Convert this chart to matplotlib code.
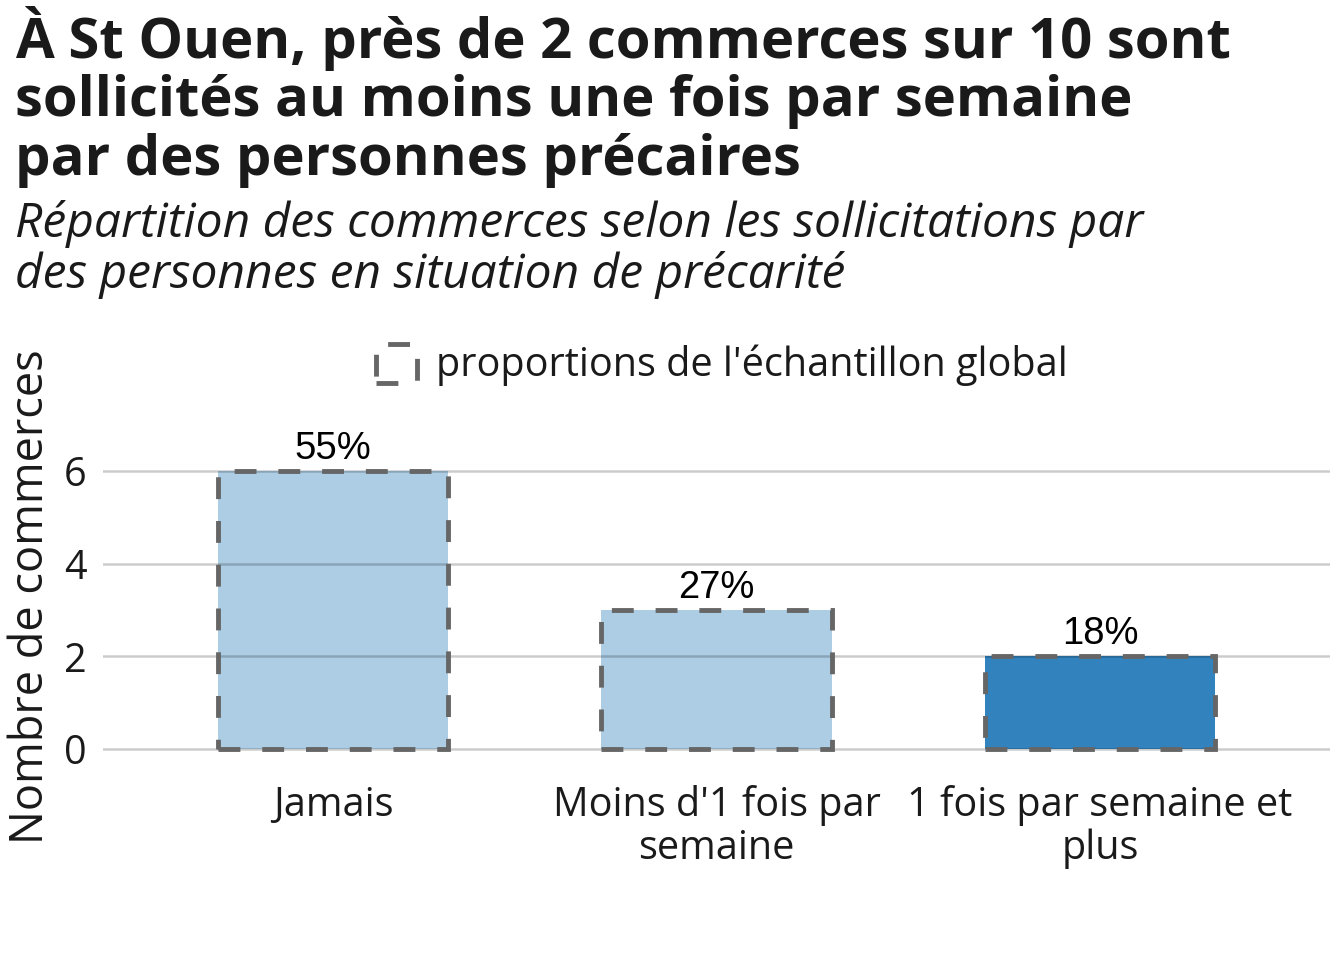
import matplotlib
matplotlib.use("Agg")
import matplotlib.pyplot as plt
from matplotlib.patches import Rectangle

categories = ["Jamais", "Moins d'1 fois par\nsemaine", "1 fois par semaine et\nplus"]
counts = [6, 3, 2]
pct_labels = ["55%", "27%", "18%"]
highlight = [False, False, True]
yticks = [0, 2, 4, 6]

BLUE = "#3182bd"
EDGE = "#666666"
TXT = "#1a1a1a"

plt.rcParams["font.family"] = ["Open Sans", "DejaVu Sans"]

fig = plt.figure(figsize=(13.44, 9.6), dpi=100)
ax = fig.add_axes([103 / 1344, 1 - 763 / 960, (1330 - 103) / 1344, (763 - 457) / 960])

x = [1, 2, 3]
for xi, c, h in zip(x, counts, highlight):
    ax.bar(xi, c, width=0.6, color=BLUE, alpha=1.0 if h else 0.4, linewidth=0, zorder=1)
# dashed outline = proportions of the global sample
ax.bar(x, counts, width=0.6, fill=False, edgecolor=EDGE, linewidth=3.5,
       linestyle=(0, (4.5, 4.5)), zorder=3)

for yv in yticks:
    ax.axhline(yv, color="black", alpha=0.2, linewidth=1.8, zorder=2)

for xi, c, lab in zip(x, counts, pct_labels):
    ax.text(xi, c + 0.09, lab, ha="center", va="bottom", fontsize=27.5,
            family="Liberation Sans", color="black", clip_on=False)

ax.set_xlim(0.4, 3.6)
ax.set_ylim(-0.3, 6.3)
ax.set_yticks(yticks)
ax.set_xticks(x)
ax.set_xticklabels(categories, fontsize=28.5, color=TXT, linespacing=1.07)
ax.tick_params(axis="y", labelsize=28.5, labelcolor=TXT, length=0, pad=12)
ax.tick_params(axis="x", length=0, pad=16)
for s in ax.spines.values():
    s.set_visible(False)
fig.text(31 / 1344, 1 - 597 / 960, "Nombre de commerces", rotation=90,
         fontsize=32.5, color=TXT, ha="center", va="center")

# legend key
fig.patches.append(Rectangle((376 / 1344, 1 - 383 / 960), 41 / 1344, 39 / 960,
                             transform=fig.transFigure, fill=False, edgecolor=EDGE,
                             linewidth=3.5, linestyle=(0, (4.5, 4.5))))
fig.text(436 / 1344, 1 - 365 / 960, "proportions de l'échantillon global",
         fontsize=28.5, color=TXT, va="center", ha="left")

fig.text(15 / 1344, 1 - 6 / 960,
         "À St Ouen, près de 2 commerces sur 10 sont\nsollicités au moins une fois par semaine\npar des personnes précaires",
         fontsize=40.5, fontweight="bold", color=TXT, va="top", ha="left", linespacing=1.08)
fig.text(15 / 1344, 1 - 200 / 960,
         "Répartition des commerces selon les sollicitations par\ndes personnes en situation de précarité",
         fontsize=34.5, style="italic", color=TXT, va="top", ha="left", linespacing=1.07)

fig.savefig("out.png", dpi=100, facecolor="white")
